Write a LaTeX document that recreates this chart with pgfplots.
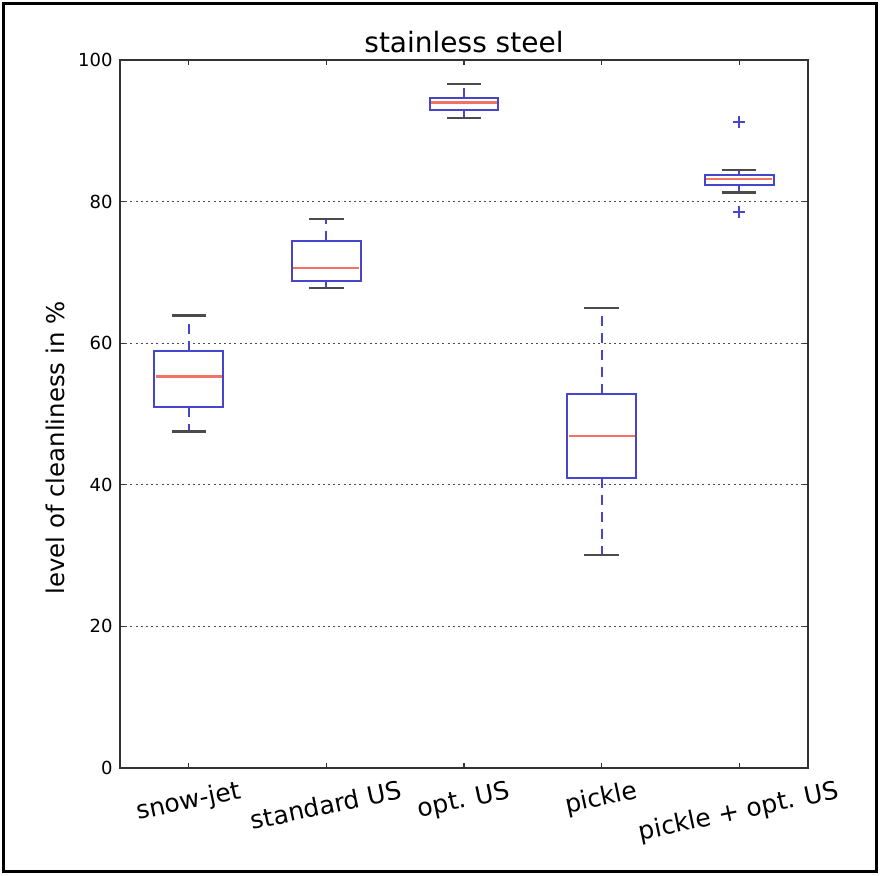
\documentclass[border=0pt]{standalone}
\usepackage{fontspec}
\setmainfont{DejaVu Sans}
\usepackage{graphicx}
\usepackage{pgfplots}
\pgfplotsset{compat=1.18}
\definecolor{mplblue}{RGB}{70,70,205}
\definecolor{mplred}{RGB}{240,115,100}
\definecolor{capc}{RGB}{75,75,75}
\pgfplotsset{
  wh/.style={mplblue, line width=1pt, dash pattern=on 5pt off 3.5pt},
  cap/.style={capc, line width=1.2pt, solid},
  bx/.style={mplblue, line width=1pt, solid, line join=miter},
  md/.style={mplred, line width=1.3pt, solid},
}
\newcommand{\rl}[1]{\rotatebox{12}{\rule[-3pt]{0pt}{12.5pt}#1}}
\begin{document}
\begin{tikzpicture}
\useasboundingbox (0,0) rectangle (440pt,437.5pt);
\draw[black, line width=1.2pt] (1.75pt,1.75pt) rectangle (438.25pt,435.75pt);
\begin{axis}[
  at={(60pt,53.5pt)}, anchor=south west,
  scale only axis, width=344pt, height=354pt,
  xmin=0.5, xmax=5.5, ymin=0, ymax=100,
  xtick={1,2,3,4,5},
  xticklabels={\rl{snow-jet}, \rl{standard US}, \rl{opt. US}, \rl{pickle}, \rl{pickle + opt. US}},
  ytick={0,20,40,60,80,100},
  ymajorgrids,
  grid style={black!70, line width=0.6pt, dash pattern=on 1pt off 1.6pt},
  tick align=inside, major tick length=2.5pt,
  tick style={black!80, line width=0.6pt},
  axis line style={black!80, line width=0.8pt},
  /pgf/number format/assume math mode=true,
  yticklabel style={font=\fontsize{9}{10}\selectfont, inner sep=0pt, anchor=east, xshift=-3.5pt},
  xticklabel style={font=\fontsize{12.5}{14}\selectfont, inner sep=0pt, anchor=north, yshift=-5.5pt},
  title={stainless steel},
  every axis title/.style={at={(axis description cs:0.5,1)}, anchor=south, inner sep=0pt, yshift=3.5pt,
     font=\fontsize{14}{16}\selectfont},
  ylabel={level of cleanliness in \%},
  every axis y label/.style={at={(axis description cs:-0.080,0.452)}, rotate=90, anchor=south, inner sep=0pt,
     font=\fontsize{12.2}{14}\selectfont},
]
% ---- whiskers (quartile to whisker end)
\addplot[wh] coordinates {(1,58.9) (1,63.9)};
\addplot[wh] coordinates {(1,51.0) (1,47.5)};
\addplot[wh] coordinates {(2,74.4) (2,77.5)};
\addplot[wh] coordinates {(2,68.8) (2,67.8)};
\addplot[wh] coordinates {(3,94.6) (3,96.6)};
\addplot[wh] coordinates {(3,93.0) (3,91.8)};
\addplot[wh] coordinates {(4,52.8) (4,65.0)};
\addplot[wh] coordinates {(4,41.0) (4,30.1)};
\addplot[wh] coordinates {(5,83.8) (5,84.5)};
\addplot[wh] coordinates {(5,82.4) (5,81.3)};
% ---- caps
\addplot[cap] coordinates {(0.875,63.9) (1.125,63.9)};
\addplot[cap] coordinates {(0.875,47.5) (1.125,47.5)};
\addplot[cap] coordinates {(1.875,77.5) (2.125,77.5)};
\addplot[cap] coordinates {(1.875,67.8) (2.125,67.8)};
\addplot[cap] coordinates {(2.875,96.6) (3.125,96.6)};
\addplot[cap] coordinates {(2.875,91.8) (3.125,91.8)};
\addplot[cap] coordinates {(3.875,65.0) (4.125,65.0)};
\addplot[cap] coordinates {(3.875,30.1) (4.125,30.1)};
\addplot[cap] coordinates {(4.875,84.5) (5.125,84.5)};
\addplot[cap] coordinates {(4.875,81.3) (5.125,81.3)};
% ---- boxes (lower quartile to upper quartile)
\addplot[bx] coordinates {(0.75,51.0) (1.25,51.0) (1.25,58.9) (0.75,58.9)} -- cycle;
\addplot[bx] coordinates {(1.75,68.8) (2.25,68.8) (2.25,74.4) (1.75,74.4)} -- cycle;
\addplot[bx] coordinates {(2.75,93.0) (3.25,93.0) (3.25,94.6) (2.75,94.6)} -- cycle;
\addplot[bx] coordinates {(3.75,41.0) (4.25,41.0) (4.25,52.8) (3.75,52.8)} -- cycle;
\addplot[bx] coordinates {(4.75,82.4) (5.25,82.4) (5.25,83.8) (4.75,83.8)} -- cycle;
% ---- medians
\addplot[md] coordinates {(0.76,55.3) (1.24,55.3)};
\addplot[md] coordinates {(1.76,70.6) (2.24,70.6)};
\addplot[md] coordinates {(2.76,94.0) (3.24,94.0)};
\addplot[md] coordinates {(3.76,46.9) (4.24,46.9)};
\addplot[md] coordinates {(4.76,83.2) (5.24,83.2)};
% ---- outliers
\addplot[only marks, mark=+, mark size=3pt, mplblue, mark options={line width=1pt, solid}]
  coordinates {(5,91.2) (5,78.5)};
\end{axis}
\end{tikzpicture}
\end{document}
